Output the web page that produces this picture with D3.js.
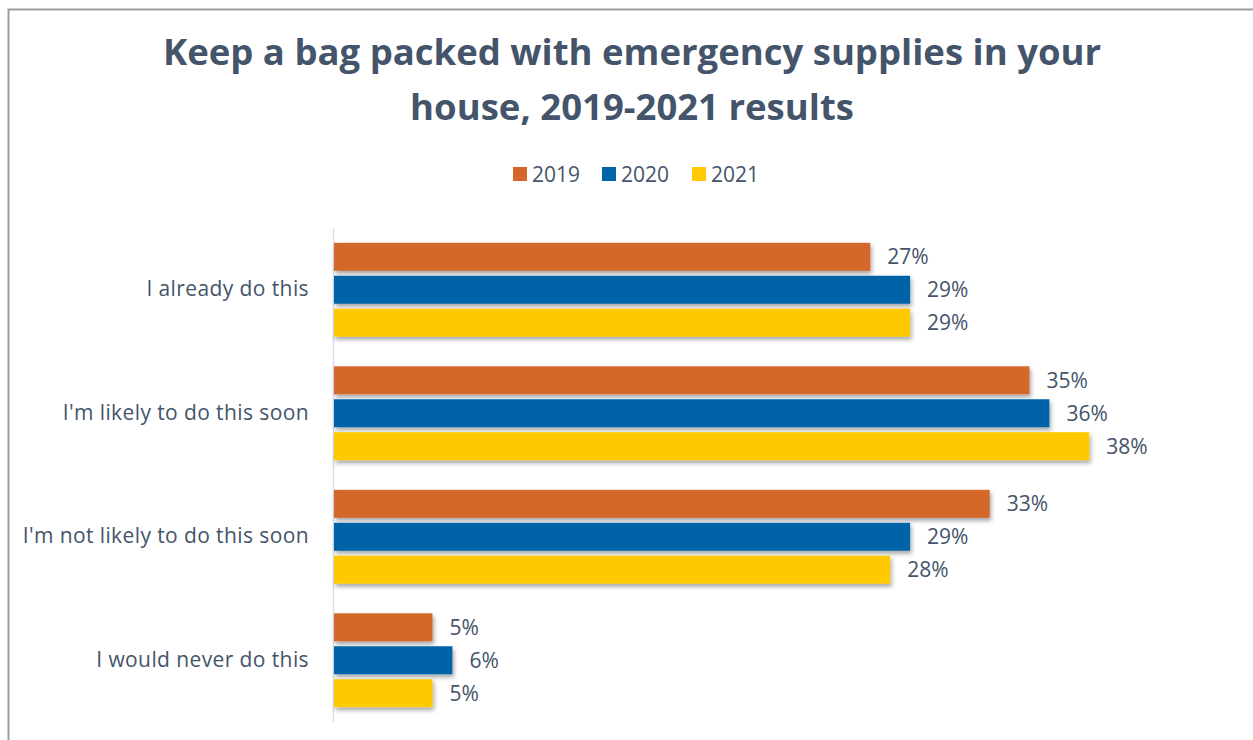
<!DOCTYPE html>
<html>
<head>
<meta charset="utf-8">
<script src="https://cdn.jsdelivr.net/npm/d3@7"></script>
<style>
  html, body { margin: 0; padding: 0; background: #fff; }
  svg { display: block; }
</style>
</head>
<body>
<svg id="chart" width="1253" height="740"></svg>
<script>
// Survey answers, top to bottom
const categories = [
  "I already do this",
  "I'm likely to do this soon",
  "I'm not likely to do this soon",
  "I would never do this"
];
const years = ["2019", "2020", "2021"];
const values2019 = [27, 35, 33, 5];
const values2020 = [29, 36, 29, 6];
const values2021 = [29, 38, 28, 5];
const seriesColors = ["#D4672A", "#0064A8", "#FFC904"];
const titleLines = [
  "Keep a bag packed with emergency supplies in your",
  "house, 2019-2021 results"
];

const series = [values2019, values2020, values2021];
const textColor = "#44546A";
const font = "'Open Sans', 'Noto Sans', sans-serif";

const svg = d3.select("#chart");

// Drop shadow under bars
const defs = svg.append("defs");
const f = defs.append("filter").attr("id", "shadow")
  .attr("x", "-5%").attr("y", "-30%").attr("width", "115%").attr("height", "180%");
f.append("feDropShadow").attr("dx", 1.5).attr("dy", 3).attr("stdDeviation", 2)
  .attr("flood-color", "#000").attr("flood-opacity", 0.35);

// Outer frame
svg.append("rect")
  .attr("x", 8.5).attr("y", 9.5).attr("width", 1260).attr("height", 760)
  .attr("fill", "none").attr("stroke", "#9A9FA4").attr("stroke-width", 2);

// Title
svg.append("g").selectAll("text").data(titleLines).join("text")
  .attr("x", 632).attr("y", (d, i) => 65 + i * 55)
  .attr("text-anchor", "middle")
  .attr("font-family", font).attr("font-weight", 700).attr("font-size", 36.5)
  .attr("fill", textColor)
  .text(d => d);

// Legend
const legendX = [513, 602, 692];
const legend = svg.append("g").selectAll("g").data(years).join("g")
  .attr("transform", (d, i) => `translate(${legendX[i]},167)`);
legend.append("rect").attr("width", 14).attr("height", 14)
  .attr("fill", (d, i) => seriesColors[i]);
legend.append("text").attr("x", 19).attr("y", 14.5)
  .attr("font-family", font).attr("font-size", 21).attr("fill", textColor)
  .text(d => d);

// Scales
const x0 = 333;
const x = d3.scaleLinear().domain([0, 40]).range([x0, x0 + 796]);
const y = d3.scaleBand().domain(categories).range([228, 722]);
const inner = d3.scaleBand().domain(years).range([0, y.bandwidth()])
  .paddingInner(0.15).paddingOuter(0.45);

// Category axis
const yAxis = svg.append("g").attr("transform", `translate(${x0},0)`)
  .call(d3.axisLeft(y).tickSize(0).tickPadding(24));
yAxis.select(".domain").attr("stroke", "#D9DEE6").attr("stroke-width", 1.5);
yAxis.selectAll("text")
  .attr("font-family", font).attr("font-size", 21).attr("letter-spacing", 0.4)
  .attr("fill", textColor);

// Bars and value labels
const groups = svg.append("g").selectAll("g").data(categories).join("g")
  .attr("transform", d => `translate(0,${y(d)})`);

years.forEach((yr, s) => {
  groups.append("rect")
    .attr("x", x(0) + 1)
    .attr("y", inner(yr))
    .attr("width", (d, i) => x(series[s][i]) - x(0) - 1)
    .attr("height", inner.bandwidth())
    .attr("fill", seriesColors[s])
    .attr("filter", "url(#shadow)");
  groups.append("text")
    .attr("x", (d, i) => x(series[s][i]) + 17)
    .attr("y", inner(yr) + inner.bandwidth() / 2)
    .attr("dy", "0.36em")
    .attr("font-family", font).attr("font-size", 21).attr("fill", textColor)
    .text((d, i) => series[s][i] + "%");
});
</script>
</body>
</html>
